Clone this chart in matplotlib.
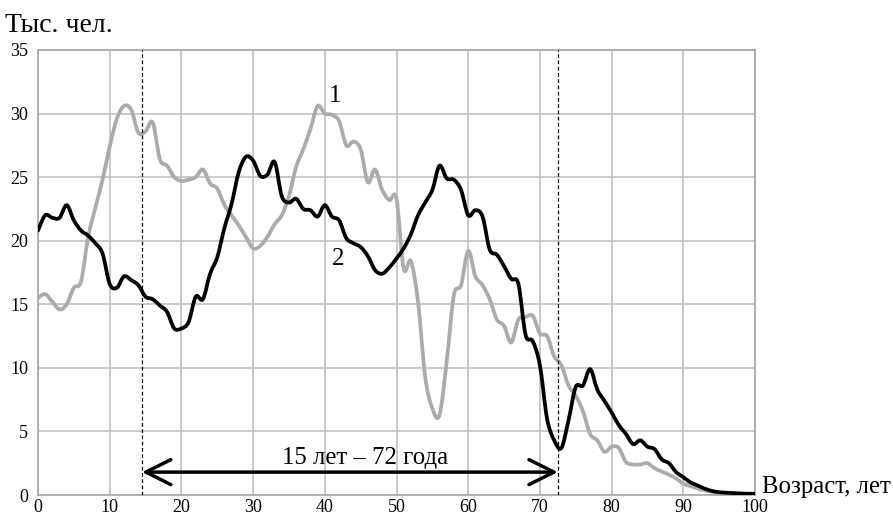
import numpy as np
import matplotlib
matplotlib.use("Agg")
import matplotlib.pyplot as plt
from matplotlib.path import Path
from matplotlib.patches import PathPatch

plt.rcParams['font.family'] = ['Liberation Serif', 'DejaVu Serif']

# возраст, лет
ages = list(range(0, 101))

# кривая 1 (серая), тыс. чел.
series1 = [15.5, 15.8, 15.2, 14.6, 15.0, 16.3, 16.8, 20.3, 22.6, 24.8,
           27.4, 29.6, 30.6, 30.3, 28.5, 28.6, 29.3, 26.4, 25.9, 25.0,
           24.7, 24.8, 25.0, 25.6, 24.5, 24.1, 22.8, 22.0, 21.2, 20.3,
           19.4, 19.6, 20.3, 21.3, 22.0, 23.5, 25.8, 27.2, 28.8, 30.6,
           30.0, 29.9, 29.4, 27.5, 27.8, 27.2, 24.6, 25.6, 24.0, 23.2,
           23.3, 17.8, 18.4, 15.2, 9.3, 6.8, 6.3, 10.5, 15.7, 16.5,
           19.2, 17.2, 16.5, 15.4, 13.8, 13.3, 12.0, 13.8, 14.0, 14.1,
           12.7, 12.5, 10.9, 10.2, 8.6, 7.8, 6.6, 4.8, 4.3, 3.4,
           3.8, 3.7, 2.6, 2.4, 2.4, 2.5, 2.1, 1.85, 1.6, 1.3,
           0.9, 0.7, 0.5, 0.35, 0.25, 0.18, 0.14, 0.1, 0.08, 0.07,
           0.06]

# кривая 2 (чёрная), тыс. чел.
series2 = [20.8, 22.0, 21.8, 21.8, 22.8, 21.6, 20.8, 20.4, 19.8, 19.0,
           16.6, 16.3, 17.2, 16.9, 16.5, 15.6, 15.4, 14.9, 14.4, 13.1,
           13.1, 13.6, 15.6, 15.4, 17.4, 18.7, 21.0, 22.9, 25.4, 26.6,
           26.3, 25.1, 25.2, 26.2, 23.5, 23.0, 23.3, 22.5, 22.4, 21.9,
           22.8, 21.9, 21.6, 20.2, 19.8, 19.5, 18.8, 17.7, 17.4, 17.9,
           18.6, 19.4, 20.5, 22.0, 23.0, 24.0, 25.9, 24.9, 24.8, 24.0,
           22.0, 22.4, 21.9, 19.3, 18.9, 18.0, 17.0, 16.6, 12.6, 12.1,
           10.2, 6.0, 4.3, 3.7, 5.9, 8.5, 8.6, 9.9, 8.3, 7.4,
           6.5, 5.5, 4.8, 4.0, 4.3, 3.8, 3.6, 2.8, 2.5, 1.8,
           1.4, 1.0, 0.75, 0.5, 0.32, 0.22, 0.18, 0.15, 0.12, 0.1,
           0.1]

bounds = [14.5, 72.5]
bounds_text = "15 лет – 72 года"
xticks = list(range(0, 101, 10))
yticks = list(range(0, 36, 5))


def smooth_path(x, y):
    # сглаженная линия как в Excel: кубические Безье по соседним точкам
    pts = np.column_stack([x, y]).astype(float)
    n = len(pts)
    verts = [pts[0]]
    codes = [Path.MOVETO]
    for i in range(n - 1):
        p0 = pts[i - 1] if i > 0 else pts[i]
        p1 = pts[i]
        p2 = pts[i + 1]
        p3 = pts[i + 2] if i + 2 < n else pts[i + 1]
        verts += [p1 + (p2 - p0) / 6, p2 - (p3 - p1) / 6, p2]
        codes += [Path.CURVE4] * 3
    return Path(verts, codes)


fig = plt.figure(figsize=(8.93, 5.19), dpi=100)
ax = fig.add_axes([38 / 893, 24 / 519, 717 / 893, 445 / 519])

ax.set_xlim(0, 100)
ax.set_ylim(0, 35)
ax.set_xticks(xticks)
ax.set_yticks(yticks)
ax.grid(True, color='#c0c0c0', lw=1.2)
ax.set_axisbelow(True)
for s in ax.spines.values():
    s.set_color('#a6a6a6')
    s.set_linewidth(1.2)
ax.tick_params(axis='y', length=0, labelsize=13, pad=7)
ax.tick_params(axis='x', length=0, labelsize=13, pad=3)

ax.add_patch(PathPatch(smooth_path(ages, series1), fill=False, edgecolor='#ababab',
                       lw=2.7, capstyle='round', joinstyle='round', zorder=3))
ax.add_patch(PathPatch(smooth_path(ages, series2), fill=False, edgecolor='black',
                       lw=2.7, capstyle='round', joinstyle='round', zorder=4))

for b in bounds:
    ax.axvline(b, color='black', lw=0.9, ls=(0, (3, 2)), zorder=5)

ax.annotate('', xy=(bounds[0], 1.8), xytext=(bounds[1], 1.8),
            arrowprops=dict(arrowstyle='<->, head_length=0.9, head_width=0.45',
                            lw=2.5, color='black', shrinkA=0, shrinkB=0,
                            mutation_scale=20), zorder=6)
ax.text(45.6, 2.45, bounds_text, ha='center', va='baseline', fontsize=17.8)

ax.text(41.4, 30.9, '1', ha='center', va='baseline', fontsize=18)
ax.text(41.8, 18.1, '2', ha='center', va='baseline', fontsize=18)

fig.text(5 / 893, 1 - 32 / 519, 'Тыс. чел.', ha='left', va='baseline', fontsize=20)
fig.text(762 / 893, 1 - 493 / 519, 'Возраст, лет', ha='left', va='baseline', fontsize=17.8)

fig.savefig('out.png', dpi=100)
